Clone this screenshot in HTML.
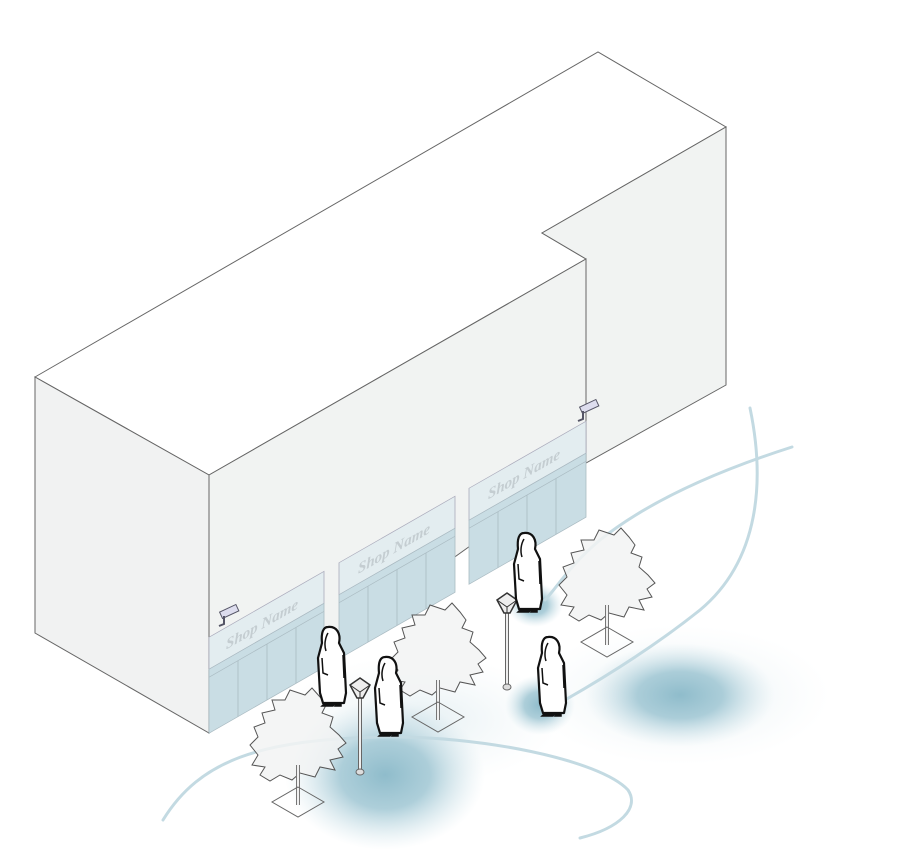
<!DOCTYPE html>
<html><head><meta charset="utf-8"><style>html,body{margin:0;padding:0;background:#fff}svg{display:block}</style></head>
<body>
<svg width="900" height="868" viewBox="0 0 900 868" xmlns="http://www.w3.org/2000/svg">
<defs>
<radialGradient id="g" cx="50%" cy="50%" r="50%">
<stop offset="0" stop-color="#8fbccb" stop-opacity="1"/>
<stop offset="0.45" stop-color="#9fc6d3" stop-opacity="0.85"/>
<stop offset="1" stop-color="#cfe3ea" stop-opacity="0"/>
</radialGradient>
<radialGradient id="g2" cx="50%" cy="50%" r="50%">
<stop offset="0" stop-color="#e3eef2" stop-opacity="0.9"/>
<stop offset="1" stop-color="#eef5f7" stop-opacity="0"/>
</radialGradient>
<g id="tree">
<polygon points="-10,-45 5,-40 12,-47 20,-38 26,-30 22,-22 33,-18 30,-8 39,0 46,8 38,14 43,22 30,25 35,35 20,32 15,42 0,38 -8,45 -20,40 -30,46 -40,40 -35,32 -48,30 -42,20 -50,10 -42,2 -46,-8 -35,-12 -38,-22 -25,-25 -28,-35 -15,-35" fill="#f2f3f3" fill-opacity="0.85" stroke="#555" stroke-width="1"/>
<line x1="-2" y1="30" x2="-2" y2="70" stroke="#777" stroke-width="4"/>
<line x1="-2" y1="30" x2="-2" y2="70" stroke="#f0f0f0" stroke-width="2"/>
<polygon points="-2,52 24,67 -2,82 -28,67" fill="none" stroke="#666" stroke-width="1"/>
</g>
<g id="p">
<path d="M-3,-76 C6,-77 10,-69 8,-60 L13,-50 L15,-10 L13,0 L-8,0 L-11,-10 L-13,-45 L-9,-60 C-10,-70 -8,-76 -3,-76 Z" fill="#fff" stroke="#111" stroke-width="2.2" stroke-linejoin="round"/>
<path d="M-3,-70 C-6,-65 -7,-58 -5,-52 M-9,-45 L-8,-30 L-3,-28 M12,-48 L13,-25" fill="none" stroke="#111" stroke-width="1.5"/>
<path d="M-6,0 L-9,3 L2,3 L4,0 M5,0 L4,3 L10,3 L10,0" fill="#111" stroke="#111" stroke-width="1.5"/>
</g>
<g id="lamp">
<line x1="0" y1="0" x2="0" y2="80" stroke="#666" stroke-width="4"/>
<line x1="0" y1="0" x2="0" y2="80" stroke="#eee" stroke-width="2"/>
<ellipse cx="0" cy="82" rx="4" ry="3" fill="#ddd" stroke="#666"/>
<polygon points="0,-12 10,-5 3,8 -3,8 -10,-5" fill="#eee" stroke="#333" stroke-width="1.5"/>
<path d="M-10,-5 L0,2 L10,-5 M0,2 L0,8" stroke="#333" fill="none"/>
</g>
</defs>

<!-- ground glows -->
<ellipse cx="680" cy="695" rx="150" ry="70" fill="url(#g2)"/>
<ellipse cx="680" cy="695" rx="95" ry="52" fill="url(#g)"/>
<ellipse cx="420" cy="720" rx="140" ry="65" fill="url(#g2)"/>
<ellipse cx="385" cy="775" rx="100" ry="75" fill="url(#g)"/>
<ellipse cx="540" cy="705" rx="35" ry="30" fill="url(#g)"/>
<ellipse cx="535" cy="605" rx="28" ry="22" fill="url(#g)"/>

<!-- curves -->
<g fill="none" stroke="#c3dae2" stroke-width="3" stroke-linecap="round">
<path d="M163,820 C200,760 260,740 380,737 C480,735 600,760 628,790 C640,808 620,828 580,838"/>
<path d="M750,408 C765,480 760,560 700,610 C650,650 600,680 565,700"/>
<path d="M792,447 C720,470 650,500 600,540 C570,565 555,590 545,600"/>
</g>

<!-- building -->
<polygon points="35,377 598,52 726,127 542,233 586,259 209,475" fill="#fff" stroke="#666" stroke-width="1"/>
<polygon points="35,377 209,475 209,733 35,633" fill="#f1f2f2" stroke="#666" stroke-width="1"/>
<polygon points="542,233 726,127 726,385 586,463 586,259" fill="#f1f3f2" stroke="#666" stroke-width="1"/>
<polygon points="209,475 586,259 586,463 209,733" fill="#f1f3f2" stroke="#666" stroke-width="1"/>

<g transform="matrix(1,-0.573,0,1,0,0)">
 <g fill="#e3edf0" stroke="#aab" stroke-width="0.8">
  <rect x="209" y="757" width="115" height="32"/>
  <rect x="339" y="757" width="116" height="32"/>
  <rect x="469" y="757" width="117" height="32"/>
 </g>
 <g fill="#c9dde4" stroke="#aabbc2" stroke-width="0.8">
  <rect x="209" y="789" width="115" height="64"/>
  <rect x="339" y="789" width="116" height="64"/>
  <rect x="469" y="789" width="117" height="64"/>
 </g>
 <g stroke="#aabbc2" stroke-width="0.8">
  <line x1="209" y1="797" x2="324" y2="797"/><line x1="339" y1="797" x2="455" y2="797"/><line x1="469" y1="797" x2="586" y2="797"/>
  <line x1="238" y1="797" x2="238" y2="853"/><line x1="267" y1="797" x2="267" y2="853"/><line x1="296" y1="797" x2="296" y2="853"/>
  <line x1="368" y1="797" x2="368" y2="853"/><line x1="397" y1="797" x2="397" y2="853"/><line x1="426" y1="797" x2="426" y2="853"/>
  <line x1="498" y1="797" x2="498" y2="853"/><line x1="527" y1="797" x2="527" y2="853"/><line x1="556" y1="797" x2="556" y2="853"/>
 </g>
 <g font-family="Liberation Serif, serif" font-weight="bold" font-style="italic" font-size="15" fill="#c4cdd1">
  <text x="226" y="779">Shop Name</text>
  <text x="358" y="779">Shop Name</text>
  <text x="488" y="779">Shop Name</text>
 </g>
</g>

<!-- cameras -->
<g stroke="#556" stroke-width="1" fill="#dde">
<rect x="220" y="608" width="18" height="7" transform="rotate(-25 229 611)"/>
<path d="M224,616 L224,624 L219,626" fill="none" stroke="#556" stroke-width="2"/>
<rect x="580" y="403" width="18" height="7" transform="rotate(-25 589 406)"/>
<path d="M583,411 L583,419 L578,421" fill="none" stroke="#556" stroke-width="2"/>
</g>

<!-- trees -->
<use href="#tree" x="300" y="735"/>
<use href="#tree" x="440" y="650"/>
<use href="#tree" x="609" y="575"/>

<!-- lamps -->
<use href="#lamp" x="360" y="690"/>
<use href="#lamp" x="507" y="605"/>

<!-- people -->
<use href="#p" x="331" y="703"/>
<use href="#p" x="388" y="733"/>
<use href="#p" x="527" y="609"/>
<use href="#p" x="551" y="713"/>
</svg>
</body></html>
